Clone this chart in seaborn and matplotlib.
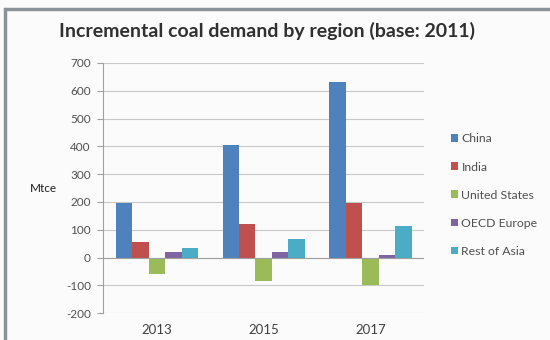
import pandas as pd
import seaborn as sns
import matplotlib.pyplot as plt
from matplotlib.patches import Rectangle, Patch

# values (Mtce, increase vs 2011)
years = ["2013", "2015", "2017"]
regions = ["China", "India", "United States", "OECD Europe", "Rest of Asia"]
china = [195, 405, 630]
india = [55, 120, 196]
united_states = [-60, -85, -100]
oecd_europe = [21, 19, 9]
rest_of_asia = [34, 68, 112]
colors = ["#4F81BD", "#C0504D", "#9BBB59", "#8064A2", "#4BACC6"]

series = [china, india, united_states, oecd_europe, rest_of_asia]
df = pd.DataFrame(
    [(y, r, v) for r, vals in zip(regions, series) for y, v in zip(years, vals)],
    columns=["year", "region", "mtce"],
)

sns.set_style("white")
plt.rcParams["font.family"] = ["Lato", "DejaVu Sans"]
plt.rcParams["axes.unicode_minus"] = False

fig = plt.figure(figsize=(5.5, 3.4), dpi=100)
fig.patch.set_facecolor("#fbfbfb")
# chart frame
fig.patches.append(
    Rectangle((0.009, -0.05), 1.1, 1.025, transform=fig.transFigure,
              fill=False, edgecolor="#8a9299", linewidth=2.5)
)

ax = fig.add_axes([0.188, 0.079, 0.583, 0.736])
ax.set_facecolor("#fbfbfb")
sns.barplot(
    data=df, x="year", y="mtce", hue="region", hue_order=regions,
    palette=colors, width=0.77, saturation=1, ax=ax, legend=False,
    linewidth=0,
)

ax.set_ylim(-200, 700)
ax.set_yticks(range(-200, 701, 100))
ax.yaxis.grid(True, color="#c8c8c8", linewidth=0.8)
ax.set_axisbelow(True)
for s in ["top", "right", "bottom"]:
    ax.spines[s].set_visible(False)
ax.spines["left"].set_color("#a0a0a0")
ax.axhline(0, color="#a0a0a0", linewidth=0.8, zorder=1)
ax.tick_params(axis="y", left=True, length=4, color="#a0a0a0",
               labelsize=8.5, labelcolor="#505050", pad=5)
ax.tick_params(axis="x", bottom=False, labelsize=9.5, labelcolor="#404040", pad=4)
ax.set_xlim(-0.5, 2.5)
ax.set_xlabel("")
ax.set_ylabel("Mtce", rotation=0, fontsize=8.5, color="#202020", labelpad=16, va="center")

fig.text(0.108, 0.91, "Incremental coal demand by region (base: 2011)",
         fontsize=14, fontweight="bold", color="#303030", va="center")

handles = [Patch(facecolor=c, edgecolor="none") for c in colors]
fig.legend(handles, regions, loc="upper left", bbox_to_anchor=(0.8, 0.64),
           frameon=False, fontsize=8.8, handlelength=0.6, handleheight=0.6,
           handletextpad=0.25, labelspacing=1.4, labelcolor="#505050")

fig.savefig("out.png", dpi=100, facecolor=fig.get_facecolor())
